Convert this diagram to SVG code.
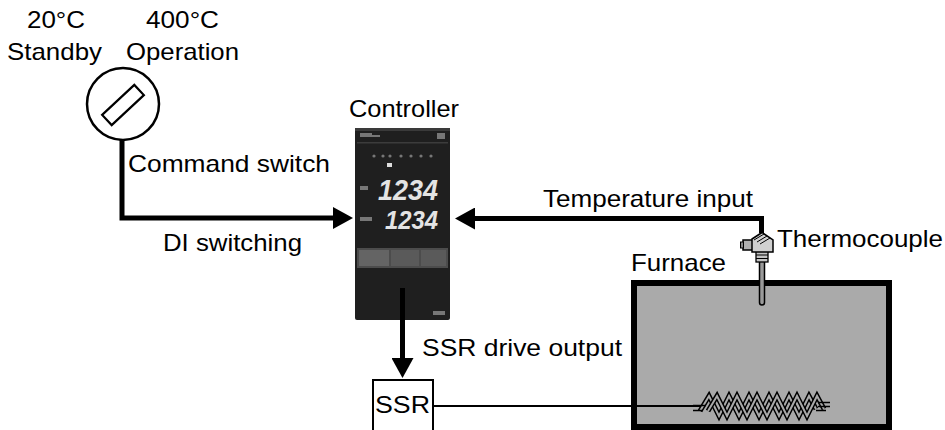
<svg xmlns="http://www.w3.org/2000/svg" width="945" height="430" viewBox="0 0 945 430">
<style>
.t{font-family:"Liberation Sans",Arial,Helvetica,sans-serif;font-size:24px;fill:#000}
.wire{fill:none;stroke:#000;stroke-width:5;stroke-linejoin:miter}
.thin{fill:none;stroke:#000;stroke-width:2}
.lead{fill:none;stroke:#000;stroke-width:1.5}
.coil{fill:none;stroke:#000;stroke-width:5;stroke-linejoin:miter}
.coilIn{fill:none;stroke:#aaa;stroke-width:2;stroke-linejoin:miter}
.dig{font-family:"Liberation Sans",Arial,sans-serif;font-style:italic;font-weight:bold;fill:#e4e4e4}
.mark{fill:#777}
</style>
<defs>
<marker id="arr" viewBox="0 0 20 22" refX="10" refY="11" markerWidth="20" markerHeight="22" markerUnits="userSpaceOnUse" orient="auto">
<path d="M0,0 L20,11 L0,22 Z" fill="#000"/>
</marker>
<path id="zig" d="M700,411 L709,396 L719,416 L729,396 L739,416 L749,396 L759,416 L769,396 L779,416 L789,396 L799,416 L809,396 L816,409"/>
</defs>
<rect width="945" height="430" fill="#fff"/>

<g id="labels-top">
<text class="t" x="27" y="28" textLength="58" lengthAdjust="spacingAndGlyphs">20°C</text>
<text class="t" x="146" y="28" textLength="73" lengthAdjust="spacingAndGlyphs">400°C</text>
<text class="t" x="7" y="60" textLength="95" lengthAdjust="spacingAndGlyphs">Standby</text>
<text class="t" x="126" y="60" textLength="113" lengthAdjust="spacingAndGlyphs">Operation</text>
</g>

<g id="command-switch">
<circle cx="123" cy="104" r="36" fill="#fff" stroke="#000" stroke-width="2.5"/>
<rect x="101" y="98" width="44" height="14" fill="#fff" stroke="#000" stroke-width="2.2" transform="rotate(-43 123 105)"/>
<text class="t" x="128" y="172" textLength="202" lengthAdjust="spacingAndGlyphs">Command switch</text>
</g>

<g id="controller">
<text class="t" x="349" y="117" textLength="110" lengthAdjust="spacingAndGlyphs">Controller</text>
<rect x="355" y="128" width="95" height="192" rx="2" fill="#1f1f1f"/>
<rect x="355" y="128" width="95" height="3" fill="#3a3a3a"/>
<rect x="357" y="142" width="91" height="1.5" fill="#3c3c3c"/>
<rect class="mark" x="360" y="133" width="12" height="4"/>
<rect class="mark" x="372" y="135" width="8" height="2"/>
<rect class="mark" x="437" y="133" width="8" height="6"/>
<circle class="mark" cx="374" cy="156" r="1.6"/>
<circle class="mark" cx="383" cy="156" r="1.6"/>
<circle class="mark" cx="390" cy="156" r="1.6"/>
<circle class="mark" cx="401" cy="156" r="1.6"/>
<circle class="mark" cx="411" cy="156" r="1.6"/>
<circle class="mark" cx="421" cy="156" r="1.6"/>
<circle class="mark" cx="431" cy="156" r="1.6"/>
<rect x="387" y="163" width="5" height="4" fill="#ddd"/>
<rect class="mark" x="360" y="186" width="8" height="4"/>
<rect class="mark" x="360" y="217" width="12" height="4"/>
<text class="dig" x="378" y="200" font-size="30" textLength="60" lengthAdjust="spacingAndGlyphs">1234</text>
<text class="dig" x="385" y="229" font-size="25" textLength="53" lengthAdjust="spacingAndGlyphs">1234</text>
<rect x="357" y="248" width="91" height="20" fill="#4c4c4c"/>
<rect x="359" y="250" width="30" height="16" fill="#646464"/>
<rect x="391" y="250" width="28" height="16" fill="#5a5a5a"/>
<rect x="421" y="250" width="25" height="16" fill="#5a5a5a"/>
<rect class="mark" x="433" y="311" width="12" height="4"/>
</g>

<g id="furnace">
<rect x="634" y="283" width="255" height="144" fill="#aaa" stroke="#000" stroke-width="6"/>
<text class="t" x="631" y="271" textLength="95" lengthAdjust="spacingAndGlyphs">Furnace</text>
</g>

<g id="heater">
<use href="#zig" class="coil"/>
<use href="#zig" class="coilIn"/>
<use href="#zig" class="coil" transform="translate(8,0)"/>
<use href="#zig" class="coilIn" transform="translate(8,0)"/>
<path class="lead" d="M693,405.5 H706 M693,410.5 H703"/>
<path class="lead" d="M818,402.5 H830 M818,406.5 H830 M816,410.5 H826"/>
</g>

<g id="thermocouple">
<rect x="759.5" y="258" width="5" height="47" rx="2.5" fill="#9a9a9a" stroke="#000" stroke-width="1.5"/>
<rect x="756" y="250" width="12" height="12" fill="#c4c4c4" stroke="#000" stroke-width="1.3"/>
<path d="M756,255 H768 M756,258.5 H768" stroke="#000" stroke-width="1"/>
<rect x="743" y="240" width="10" height="10" fill="#b0b0b0" stroke="#000" stroke-width="1.5"/>
<rect x="740.5" y="242" width="3" height="6" fill="#888" stroke="#000" stroke-width="1"/>
<path d="M752,239 L762,232.5 L773,240 L773,252 L752,252 Z" fill="#d0d0d0" stroke="#000" stroke-width="1.5"/>
<path d="M754,240 L764,234 M757,242 L767,236 M760,244 L770,238" stroke="#000" stroke-width="1"/>
<text class="t" x="777" y="247" textLength="166" lengthAdjust="spacingAndGlyphs">Thermocouple</text>
</g>

<g id="ssr">
<rect x="373" y="380" width="60" height="56" fill="#fff" stroke="#000" stroke-width="2"/>
<text class="t" x="375" y="413" textLength="55" lengthAdjust="spacingAndGlyphs">SSR</text>
</g>

<g id="connectors">
<path class="wire" d="M122,140 V218 H343" marker-end="url(#arr)"/>
<path class="wire" d="M761.5,233 V218.5 H465" marker-end="url(#arr)"/>
<path class="wire" d="M402.5,288 V368" marker-end="url(#arr)"/>
<path class="thin" d="M433,406 H701"/>
<text class="t" x="163" y="251" textLength="139" lengthAdjust="spacingAndGlyphs">DI switching</text>
<text class="t" x="543" y="207" textLength="210" lengthAdjust="spacingAndGlyphs">Temperature input</text>
<text class="t" x="422" y="356" textLength="200" lengthAdjust="spacingAndGlyphs">SSR drive output</text>
</g>
</svg>
